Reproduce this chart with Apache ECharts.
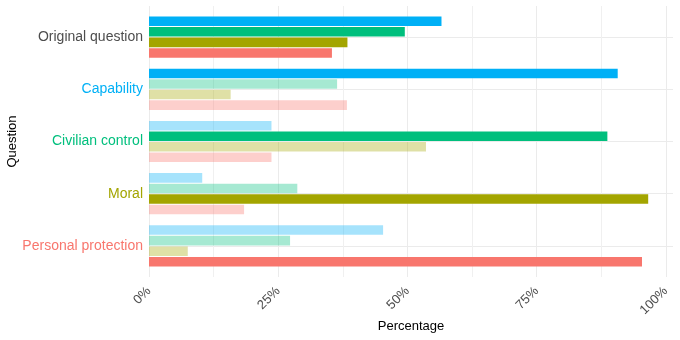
<!DOCTYPE html>
<html>
<head>
<meta charset="utf-8">
<script src="https://cdn.jsdelivr.net/npm/echarts@6/dist/echarts.min.js"></script>
<style>
  html, body { margin: 0; padding: 0; background: #fff; }
  #chart { width: 680px; height: 340px; }
</style>
</head>
<body>
<div id="chart"></div>
<script>
// questions, top to bottom
var questions = ['Original question', 'Capability', 'Civilian control', 'Moral', 'Personal protection'];
var questionColors = ['#4D4D4D', '#00B0F6', '#00BF7D', '#A3A500', '#F8766D'];

// one series per framing, values in % per question
var seriesNames = ['Capability', 'Civilian control', 'Moral', 'Personal protection'];
var seriesColors = ['#00B0F6', '#00BF7D', '#A3A500', '#F8766D'];
var capabilityValues = [56.6, 90.7, 23.7, 10.3, 45.3];
var civilianValues = [49.5, 36.4, 88.7, 28.7, 27.3];
var moralValues = [38.4, 15.8, 53.6, 96.6, 7.5];
var protectionValues = [35.4, 38.3, 23.7, 18.4, 95.4];
var xTicks = [0, 25, 50, 75, 100];

var allValues = [capabilityValues, civilianValues, moralValues, protectionValues];
var xMax = 101.4;

function buildSeries() {
    var out = [];
    for (var s = 0; s < seriesNames.length; s++) {
        var data = [];
        for (var q = 0; q < questions.length; q++) {
            // bars of the other framings are faded, original question keeps all full
            var full = (q === 0 || q === s + 1);
            data.push({
                value: allValues[s][q],
                itemStyle: { opacity: full ? 1 : 0.35 }
            });
        }
        out.push({
            name: seriesNames[s],
            type: 'bar',
            xAxisIndex: 1,
            yAxisIndex: 1,
            data: data,
            barCategoryGap: '21%',
            barGap: '10%',
            itemStyle: { color: seriesColors[s] },
            silent: true
        });
    }
    return out;
}

var chart = echarts.init(document.getElementById('chart'));
chart.setOption({
    animation: false,
    backgroundColor: '#fff',
    textStyle: { fontFamily: 'Liberation Sans' },
    // grid 0: full panel (vertical grid lines, x labels, axis titles), grid 1: bars
    grid: [
        { left: 149, right: 7, top: 6, bottom: 63, outerBoundsMode: 'none' },
        { left: 149, right: 7, top: 11, bottom: 68, outerBoundsMode: 'none' }
    ],
    xAxis: [{
        gridIndex: 0,
        type: 'value',
        min: 0,
        max: xMax,
        interval: 25,
        name: 'Percentage',
        nameLocation: 'middle',
        nameGap: 43,
        nameMoveOverlap: false,
        nameTextStyle: { color: '#000', fontSize: 13 },
        axisLine: { show: false },
        axisTick: { show: false },
        axisLabel: {
            rotate: 45,
            color: '#4D4D4D',
            fontSize: 13,
            margin: 12,
            showMaxLabel: false,
            formatter: function (v) {
                return xTicks.indexOf(v) >= 0 ? v + '%' : '';
            }
        },
        splitLine: { show: true, showMaxLine: false, lineStyle: { color: '#EBEBEB', width: 1 } },
        minorTick: { show: false, splitNumber: 2 },
        minorSplitLine: { show: true, lineStyle: { color: '#F0F0F0', width: 1 } }
    }, {
        gridIndex: 1,
        type: 'value',
        min: 0,
        max: xMax,
        show: false
    }],
    yAxis: [{
        gridIndex: 0,
        type: 'value',
        min: 0,
        max: 1,
        name: 'Question',
        nameLocation: 'middle',
        nameGap: 130,
        nameRotate: 90,
        nameTextStyle: { color: '#000', fontSize: 13 },
        axisLine: { show: false },
        axisTick: { show: false },
        axisLabel: { show: false },
        splitLine: { show: false }
    }, {
        gridIndex: 1,
        type: 'category',
        data: questions,
        inverse: true,
        axisLine: { show: false },
        axisTick: { show: false },
        axisLabel: {
            fontSize: 14,
            margin: 6,
            color: function (v, i) {
                return questionColors[questions.indexOf(v)];
            }
        },
        splitLine: { show: true, alignWithLabel: true, lineStyle: { color: '#EBEBEB', width: 1 } }
    }],
    series: buildSeries()
});
</script>
</body>
</html>
